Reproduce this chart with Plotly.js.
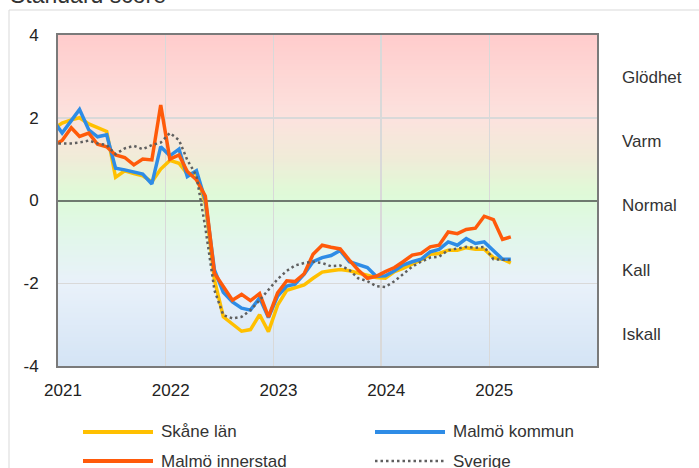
<!DOCTYPE html>
<html><head><meta charset="utf-8">
<script src="https://cdn.plot.ly/plotly-3.0.1.min.js"></script>
<style>html,body{margin:0;padding:0;background:#fff;} #chart{width:699px;height:468px;}</style>
</head><body><div id="chart"></div>
<script>
// ---- data (monthly, Dec 2020 .. Mar 2025) ----
const firstMonth = [2020, 12];
const skaneLan = [1.72,1.87,1.95,2.00,1.85,1.76,1.67,0.56,0.72,0.65,0.60,0.45,0.76,0.97,0.90,0.64,0.66,-0.07,-1.92,-2.81,-2.98,-3.16,-3.12,-2.76,-3.17,-2.53,-2.17,-2.10,-2.04,-1.88,-1.73,-1.70,-1.67,-1.70,-1.76,-1.80,-1.86,-1.88,-1.72,-1.64,-1.54,-1.44,-1.30,-1.28,-1.20,-1.20,-1.14,-1.18,-1.18,-1.38,-1.42,-1.51];
const malmoKommun = [1.95,1.63,1.93,2.20,1.71,1.54,1.59,0.78,0.74,0.68,0.64,0.40,1.30,1.08,1.24,0.58,0.72,0.01,-1.68,-2.22,-2.45,-2.60,-2.65,-2.35,-2.83,-2.31,-2.07,-2.02,-1.78,-1.48,-1.38,-1.33,-1.21,-1.48,-1.55,-1.62,-1.83,-1.82,-1.70,-1.56,-1.48,-1.42,-1.24,-1.18,-1.00,-1.08,-0.92,-1.04,-1.00,-1.20,-1.42,-1.42];
const malmoInnerstad = [1.33,1.45,1.76,1.55,1.63,1.36,1.30,1.10,1.04,0.86,1.00,0.98,2.31,1.00,1.10,0.70,0.50,0.11,-1.76,-2.07,-2.41,-2.27,-2.42,-2.25,-2.81,-2.23,-1.94,-1.96,-1.77,-1.30,-1.08,-1.13,-1.17,-1.44,-1.68,-1.88,-1.83,-1.72,-1.62,-1.48,-1.32,-1.28,-1.12,-1.08,-0.76,-0.80,-0.70,-0.67,-0.38,-0.46,-0.94,-0.88];
const sverige = [1.38,1.38,1.38,1.40,1.45,1.38,1.34,1.12,1.26,1.32,1.24,1.34,1.40,1.63,1.46,0.98,0.60,-0.65,-2.17,-2.77,-2.85,-2.81,-2.65,-2.41,-2.17,-1.90,-1.70,-1.57,-1.51,-1.48,-1.51,-1.59,-1.57,-1.68,-1.88,-1.95,-2.07,-2.09,-1.95,-1.78,-1.60,-1.48,-1.38,-1.36,-1.20,-1.16,-1.12,-1.14,-1.12,-1.42,-1.44,-1.44];
const seriesNames = ['Skåne län','Malmö kommun','Malmö innerstad','Sverige'];
const yearLabels = ['2021','2022','2023','2024','2025'];
const yTickVals = [-4,-2,0,2,4];
const bandLabels = ['Glödhet','Varm','Normal','Kall','Iskall'];
const chartTitle = 'Standard score';

// ---- helpers ----
function pad(n){return (n<10?'0':'')+n;}
const months = skaneLan.map((_,i)=>{
  const d = new Date(Date.UTC(firstMonth[0], firstMonth[1]-1+i, 15));
  return d.getUTCFullYear()+'-'+pad(d.getUTCMonth()+1)+'-15';
});
const W=699,H=468,ML=58,MR=102,MT=35,MB=102;
const PW=W-ML-MR, PH=H-MT-MB;
const px = x => (x-ML)/PW;
const py = y => (H-MB-y)/PH;

const styles = [
  {color:'#FFC000', width:3.5, dash:'solid'},
  {color:'#2E8CE6', width:3.5, dash:'solid'},
  {color:'#FF5A0A', width:3.5, dash:'solid'},
  {color:'#5f5f5f', width:2.5, dash:'2.5px,3px'}
];
const series = [skaneLan, malmoKommun, malmoInnerstad, sverige];

const traces = series.map((vals,i)=>({
  type:'scatter', mode:'lines', x:months, y:vals, name:seriesNames[i],
  line:{color:styles[i].color, width:styles[i].width, dash:styles[i].dash},
  hoverinfo:'skip', cliponaxis:true
}));

// gradient background
const stops = [
  [-4,[212,228,245]],
  [-2,[233,241,250]],
  [-1,[226,246,236]],
  [0,[222,250,218]],
  [0.3,[225,248,215]],
  [1,[240,236,216]],
  [2,[252,226,222]],
  [4,[255,204,204]]
];
function colAt(v){
  for(let i=0;i<stops.length-1;i++){
    const [a,ca]=stops[i],[b,cb]=stops[i+1];
    if(v>=a && v<=b){
      const t=(v-a)/(b-a);
      const c=ca.map((x,k)=>Math.round(x+(cb[k]-x)*t));
      return 'rgb('+c.join(',')+')';
    }
  }
  return 'rgb(255,255,255)';
}
const shapes=[];
const N=160;
for(let k=0;k<N;k++){
  const y0=-4+8*k/N, y1=y0+8/N+0.02;
  shapes.push({type:'rect',xref:'paper',x0:0,x1:1,yref:'y',y0:y0,y1:Math.min(y1,4),
    fillcolor:colAt(y0+4/N),line:{width:0},layer:'below'});
}
// outer frame
shapes.push({type:'line',xref:'paper',yref:'paper',x0:px(9),x1:px(W+5),y0:py(10),y1:py(10),line:{color:'#d9d9d9',width:1}});
shapes.push({type:'line',xref:'paper',yref:'paper',x0:px(9),x1:px(9),y0:py(10),y1:py(H+5),line:{color:'#d9d9d9',width:1}});

// custom legend
const annotations=[];
const legPos=[[83,432],[375,432],[83,461],[375,461]];
seriesNames.forEach((nm,i)=>{
  const [lx,ly]=legPos[i];
  shapes.push({type:'line',xref:'paper',yref:'paper',x0:px(lx),x1:px(lx+70),y0:py(ly),y1:py(ly),
    line:{color:styles[i].color,width:i===3?2.5:4,dash:styles[i].dash}});
  annotations.push({xref:'paper',yref:'paper',x:px(lx+76),y:py(ly),xanchor:'left',yanchor:'middle',
    text:nm,showarrow:false,font:{size:17,color:'#333'}});
});
// band labels on right
const bandY=[2.98,1.43,-0.12,-1.70,-3.25];
bandLabels.forEach((t,i)=>{
  annotations.push({xref:'paper',yref:'y',x:px(620),y:bandY[i],xanchor:'left',yanchor:'middle',
    text:t,showarrow:false,font:{size:17,color:'#333'}});
});
// title (partially cut at top, as in reference)
annotations.push({xref:'paper',yref:'paper',x:px(8),y:py(10),xanchor:'left',yanchor:'bottom',
  text:chartTitle,showarrow:false,font:{size:23,color:'#333'}});

const layout={
  width:W,height:H,margin:{l:ML,r:MR,t:MT,b:MB,pad:0},
  paper_bgcolor:'#ffffff',plot_bgcolor:'rgba(0,0,0,0)',
  font:{family:'Liberation Sans, Arial, sans-serif',size:17,color:'#222'},
  showlegend:false,
  xaxis:{type:'date',range:['2021-01-01','2026-01-01'],
    tickvals:yearLabels.map(y=>y+'-01-01'),ticktext:yearLabels,
    showgrid:true,gridcolor:'#d9d9d9',gridwidth:1.5,
    showline:true,mirror:true,linecolor:'#7a7a7a',linewidth:2,
    ticks:'',ticklabelstandoff:8,ticklabelshift:5,zeroline:false,fixedrange:true},
  yaxis:{range:[-4,4],tickvals:yTickVals,ticktext:yTickVals.map(String),
    showgrid:true,gridcolor:'#d9d9d9',gridwidth:1.5,
    zeroline:true,zerolinecolor:'#6f7a6f',zerolinewidth:2,
    showline:true,mirror:true,linecolor:'#7a7a7a',linewidth:2,
    ticks:'',ticklabelstandoff:14,fixedrange:true},
  shapes:shapes,annotations:annotations
};
Plotly.newPlot('chart',traces,layout,{staticPlot:true,displayModeBar:false});
</script></body></html>
